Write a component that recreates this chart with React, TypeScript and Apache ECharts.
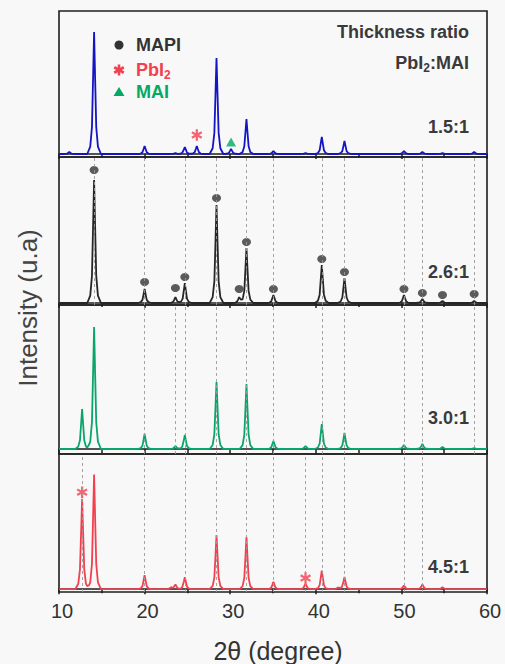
import React, { useEffect, useRef } from 'react';
import * as echarts from 'echarts';

// ---------- data ----------
const X_MIN = 10;
const X_MAX = 60;
const X_INTERVAL = 10;

const RATIO_LABELS = ['1.5:1', '2.6:1', '3.0:1', '4.5:1'];

// Panel A: 1.5:1 (blue)
const PEAK_POS_A = [11.2, 14.1, 20.0, 23.6, 24.7, 26.1, 28.4, 30.1, 31.9, 35.05, 38.8, 40.7, 43.35, 50.3, 52.45, 54.8, 58.5];
const PEAK_INT_A = [2, 122, 8, 1, 7, 8, 96, 5, 35, 3, 1, 17, 13, 3, 2, 1, 2];
const STAR_A: number[][] = [[26.1, 19]];
const TRI_A: number[][] = [[30.1, 12]];

// Panel B: 2.6:1 (black)
const PEAK_POS_B = [14.1, 20.0, 23.6, 24.7, 28.4, 31.05, 31.9, 35.05, 40.7, 43.35, 50.3, 52.45, 54.8, 58.5];
const PEAK_INT_B = [123, 14, 6, 20, 98, 6, 55, 8, 38, 25, 8, 4, 2, 2];
const DOT_INT_B = [133, 21, 15, 26, 105, 14, 61, 14, 44, 31, 14, 10, 8, 9];
const REF_LINES_B = [14.1, 20.0, 24.7, 28.4, 31.9, 35.05, 40.7, 43.35, 50.3, 52.45, 58.5];

// Panel C: 3.0:1 (green)
const PEAK_POS_C = [12.7, 14.1, 20.0, 23.6, 24.7, 28.4, 31.9, 35.05, 38.8, 40.7, 43.35, 50.3, 52.45, 54.8, 58.5];
const PEAK_INT_C = [40, 122, 15, 3, 14, 67, 65, 8, 3, 25, 16, 4, 5, 2, 1];
const REF_LINES_C = [20.0, 23.6, 24.7, 28.4, 31.9, 35.05, 40.7, 43.35, 50.3, 52.45, 58.5];

// Panel D: 4.5:1 (red)
const PEAK_POS_D = [12.7, 14.1, 20.0, 23.1, 23.6, 24.7, 28.4, 31.9, 35.05, 38.8, 40.7, 42.6, 43.35, 50.3, 52.45, 54.8];
const PEAK_INT_D = [97, 123, 15, 2, 5, 13, 58, 56, 8, 6, 20, 2, 13, 4, 5, 2];
const STAR_D: number[][] = [[12.7, 104], [38.8, 12]];
const REF_LINES_D = [12.7, 20.0, 24.7, 28.4, 31.9, 35.05, 38.8, 40.7, 43.35, 50.3, 52.45];

// ---------- peak profile (shape only) ----------
const PROFILE_OFF = [-0.8, -0.45, -0.25, -0.12, 0, 0.12, 0.25, 0.45, 0.8];
const PROFILE_FRAC = [0, 0.06, 0.22, 0.62, 1, 0.62, 0.22, 0.06, 0];

function profileAt(dx: number): number {
  if (dx <= PROFILE_OFF[0] || dx >= PROFILE_OFF[PROFILE_OFF.length - 1]) return 0;
  for (let i = 0; i < PROFILE_OFF.length - 1; i++) {
    const a = PROFILE_OFF[i];
    const b = PROFILE_OFF[i + 1];
    if (dx >= a && dx <= b) {
      const t = (dx - a) / (b - a);
      return PROFILE_FRAC[i] + t * (PROFILE_FRAC[i + 1] - PROFILE_FRAC[i]);
    }
  }
  return 0;
}

function buildPattern(pos: number[], ints: number[]): number[][] {
  const xs: number[] = [X_MIN, X_MAX];
  pos.forEach((p) => PROFILE_OFF.forEach((o) => xs.push(Math.round((p + o) * 1000) / 1000)));
  const uniq = Array.from(new Set(xs)).filter((x) => x >= X_MIN && x <= X_MAX).sort((a, b) => a - b);
  return uniq.map((x) => {
    let y = 0;
    pos.forEach((p, i) => {
      y += ints[i] * profileAt(x - p);
    });
    return [x, Math.round(y * 100) / 100];
  });
}

// ---------- styles ----------
const FONT = 'Liberation Sans, Arial, sans-serif';
const COLORS = ['#1414c4', '#262626', '#0aa56b', '#f2404f'];
const STAR_COLOR = '#f2404f';
const TRI_COLOR = '#05a865';
const ASTERISK =
  'path://M-1.2,-6L1.2,-6L1.2,6L-1.2,6Z M4.596,-4.039L5.796,-1.961L-4.596,4.039L-5.796,1.961Z M-5.796,-1.961L-4.596,-4.039L5.796,1.961L4.596,4.039Z';

const GRID_TOPS = [11, 157, 305, 454];
const GRID_HEIGHTS = [146, 148, 149, 148];
const Y_MINS = [-3, -2, -5, -3];
const Y_MAXS = [143, 146, 144, 145];
const LABEL_Y = [127, 272, 418, 567];

function refLines(values: number[]) {
  return {
    silent: true,
    symbol: 'none',
    label: { show: false },
    lineStyle: { color: '#9a9a9a', type: [3, 3], width: 0.9 },
    data: values.map((v) => ({ xAxis: v })),
  };
}

function buildOption() {
  const patterns = [
    buildPattern(PEAK_POS_A, PEAK_INT_A),
    buildPattern(PEAK_POS_B, PEAK_INT_B),
    buildPattern(PEAK_POS_C, PEAK_INT_C),
    buildPattern(PEAK_POS_D, PEAK_INT_D),
  ];
  const lines = [null, REF_LINES_B, REF_LINES_C, REF_LINES_D];

  const grids = GRID_TOPS.map((top, i) => ({
    left: 59,
    right: 18,
    top,
    height: GRID_HEIGHTS[i],
    show: true,
    borderColor: '#1e1e1e',
    borderWidth: 1.6,
    backgroundColor: 'transparent',
  }));

  const xAxes = GRID_TOPS.map((_, i) => ({
    type: 'value',
    gridIndex: i,
    min: X_MIN,
    max: X_MAX,
    interval: X_INTERVAL,
    axisLine: { show: true, lineStyle: { color: '#1e1e1e', width: 1.6 } },
    axisTick: { show: true, inside: false, length: 5, lineStyle: { color: '#1e1e1e', width: 1.5 } },
    minorTick: { show: true, splitNumber: 2, length: 4, lineStyle: { color: '#1e1e1e', width: 1.5 } },
    splitLine: { show: false },
    minorSplitLine: { show: false },
    axisLabel: {
      show: i === 3,
      fontSize: 20,
      color: '#333',
      fontFamily: FONT,
      margin: 9,
      padding: [0, 0, 0, 6],
    },
    name: i === 3 ? '2θ (degree)' : '',
    nameLocation: 'middle',
    nameGap: 46,
    nameTextStyle: { fontSize: 25, color: '#333', fontFamily: FONT, padding: [0, 0, 0, 10] },
  }));

  const yAxes = GRID_TOPS.map((_, i) => ({
    type: 'value',
    gridIndex: i,
    min: Y_MINS[i],
    max: Y_MAXS[i],
    show: false,
    splitLine: { show: false },
  }));

  const series: any[] = [];
  lines.forEach((vals, i) => {
    if (!vals) return;
    series.push({
      type: 'line',
      xAxisIndex: i,
      yAxisIndex: i,
      data: [],
      symbol: 'none',
      z: 1,
      markLine: refLines(vals),
    });
  });

  patterns.forEach((data, i) => {
    series.push({
      type: 'line',
      xAxisIndex: i,
      yAxisIndex: i,
      data,
      symbol: 'none',
      showSymbol: false,
      smooth: false,
      lineStyle: { color: COLORS[i], width: 1.8 },
      z: 3,
    });
  });

  series.push({
    type: 'scatter',
    xAxisIndex: 0,
    yAxisIndex: 0,
    data: STAR_A,
    symbol: ASTERISK,
    symbolSize: [11, 11.4],
    itemStyle: { color: STAR_COLOR },
    z: 4,
  });
  series.push({
    type: 'scatter',
    xAxisIndex: 0,
    yAxisIndex: 0,
    data: TRI_A,
    symbol: 'triangle',
    symbolSize: [10, 9],
    itemStyle: { color: TRI_COLOR },
    z: 4,
  });
  series.push({
    type: 'scatter',
    xAxisIndex: 1,
    yAxisIndex: 1,
    data: PEAK_POS_B.map((p, i) => [p, DOT_INT_B[i]]),
    symbol: 'circle',
    symbolSize: [9, 8],
    itemStyle: { color: '#333' },
    z: 4,
  });
  series.push({
    type: 'scatter',
    xAxisIndex: 3,
    yAxisIndex: 3,
    data: STAR_D,
    symbol: ASTERISK,
    symbolSize: [11, 11.4],
    itemStyle: { color: STAR_COLOR },
    z: 4,
  });

  const starRect = (rot: number) => ({
    type: 'rect',
    shape: { x: -1.3, y: -5.5, width: 2.6, height: 11 },
    rotation: rot,
    style: { fill: STAR_COLOR },
  });

  const graphic: any[] = [
    // legend
    { type: 'circle', shape: { cx: 119, cy: 45, r: 4.5 }, style: { fill: '#333' } },
    {
      type: 'text',
      x: 136,
      y: 45,
      style: { text: 'MAPI', fontSize: 18, fontWeight: 'bold', fill: '#333', fontFamily: FONT, verticalAlign: 'middle' },
    },
    { type: 'group', x: 119, y: 70, children: [starRect(0), starRect(Math.PI / 3), starRect(-Math.PI / 3)] },
    {
      type: 'text',
      x: 136,
      y: 70,
      style: {
        text: '{a|PbI}{s|2}',
        verticalAlign: 'middle',
        rich: {
          a: { fontSize: 18, fontWeight: 'bold', fill: STAR_COLOR, color: STAR_COLOR, fontFamily: FONT, lineHeight: 22 },
          s: { fontSize: 12, fontWeight: 'bold', fill: STAR_COLOR, color: STAR_COLOR, fontFamily: FONT, lineHeight: 12, verticalAlign: 'bottom' },
        },
      },
    },
    { type: 'polygon', shape: { points: [[119, 87], [124.5, 96], [113.5, 96]] }, style: { fill: TRI_COLOR } },
    {
      type: 'text',
      x: 136,
      y: 92,
      style: { text: 'MAI', fontSize: 18, fontWeight: 'bold', fill: TRI_COLOR, fontFamily: FONT, verticalAlign: 'middle' },
    },
    // header
    {
      type: 'text',
      x: 469,
      y: 32,
      style: { text: 'Thickness ratio', fontSize: 18, fontWeight: 'bold', fill: '#3a3a3a', fontFamily: FONT, align: 'right', verticalAlign: 'middle' },
    },
    {
      type: 'text',
      x: 469,
      y: 63,
      style: {
        text: '{a|PbI}{s|2}{a|:MAI}',
        align: 'right',
        verticalAlign: 'middle',
        rich: {
          a: { fontSize: 18, fontWeight: 'bold', fill: '#3a3a3a', color: '#3a3a3a', fontFamily: FONT, lineHeight: 22 },
          s: { fontSize: 12, fontWeight: 'bold', fill: '#3a3a3a', color: '#3a3a3a', fontFamily: FONT, lineHeight: 12, verticalAlign: 'bottom' },
        },
      },
    },
    // y-axis title
    {
      type: 'text',
      x: 28,
      y: 308,
      rotation: Math.PI / 2,
      style: { text: 'Intensity (u.a)', fontSize: 26, fill: '#444', fontFamily: FONT, align: 'center', verticalAlign: 'middle' },
    },
  ];

  RATIO_LABELS.forEach((t, i) => {
    graphic.push({
      type: 'text',
      x: 469,
      y: LABEL_Y[i],
      style: { text: t, fontSize: 18, fontWeight: 'bold', fill: '#3a3a3a', fontFamily: FONT, align: 'right', verticalAlign: 'middle' },
    });
  });

  return {
    animation: false,
    backgroundColor: '#f8f8f8',
    grid: grids,
    xAxis: xAxes,
    yAxis: yAxes,
    series,
    graphic,
  };
}

export default function App() {
  const ref = useRef<HTMLDivElement>(null);
  useEffect(() => {
    if (!ref.current) return;
    const chart = echarts.init(ref.current, null, { renderer: 'svg' });
    chart.setOption(buildOption() as any);
    return () => chart.dispose();
  }, []);
  return <div ref={ref} style={{ position: 'fixed', left: 0, top: 0, width: 505, height: 664 }} />;
}
